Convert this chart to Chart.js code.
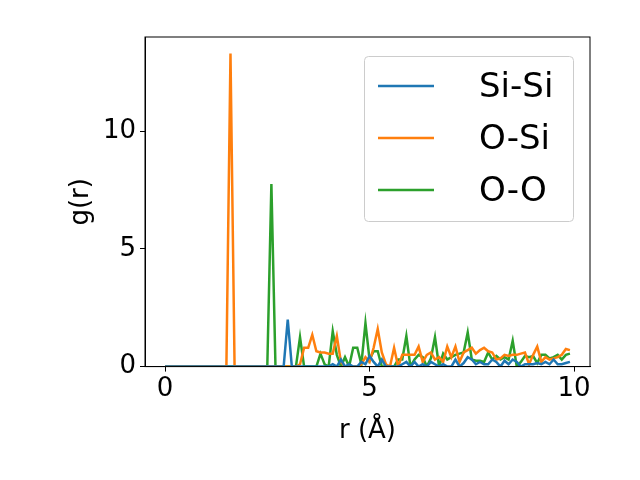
<!DOCTYPE html>
<html><head><script src="https://cdn.jsdelivr.net/npm/chart.js"></script>
<style>body{margin:0;background:#fff}#w{width:640px;height:480px}</style></head>
<body><div id="w"><canvas id="c" width="640" height="480"></canvas></div>
<script>
const labels = ["Si-Si","O-Si","O-O"];
const colors = ["#1f77b4","#ff7f0e","#2ca02c"];
const xTicks = [0,5,10];
const yTicks = [0,5,10];
const siSi = [0,0,0,0,0,0,0,0,0,0, 0,0,0,0,0,0,0,0,0,0, 0,0,0,0,0,0,0,0,0,0, 2.0,0,0,0,0,0,0,0,0,0,
0,0.1,0,0.3,0,0.1,0,0,0.2,0.1, 0.45,0.2,0,0.3,0,0,0,0,0.1,0.2, 0,0.2,0,0.1,0,0.2,0.1,0,0.1,0,
0,0.3,0,0.15,0.4,0.3,0.1,0.2,0.1,0.1, 0.3,0.2,0,0.25,0.1,0.3,0.2,0,0.1,0.1, 0.1,0.15,0.1,0.2,0.1,0.3,0.1,0.1,0.15,0.2];
const oSi = [0,0,0,0,0,0,0,0,0,0, 0,0,0,0,0,0,13.3,0,0,0, 0,0,0,0,0,0,0,0,0,0, 0,0,0,0.1,0.8,0.8,1.35,0.65,0.6,0.6,
0.55,0.55,1.3,0.2,0,0,0,0,0.1,0.4, 0.2,0.8,1.6,0.6,0.1,0,0.8,0,0.5,0.5, 0.5,0.5,0.85,0.2,0.5,0.6,0.3,0.4,0.2,0.85,
0.4,0.85,0.2,0.6,0.7,0.8,0.55,0.7,0.8,0.65, 0.6,0.3,0.35,0.5,0.45,0.5,0.5,0.55,0.6,0.1, 0.5,0.85,0.2,0.4,0.3,0.35,0.4,0.5,0.75,0.7];
const oO = [0,0,0,0,0,0,0,0,0,0, 0,0,0,0,0,0,0,0,0,0, 0,0,0,0,0,0,7.75,0,0,0, 0,0,0,1.25,0,0,0,0,0.55,0.1,
0,1.5,0.5,0,0.4,0,0.8,0.8,0.1,1.85, 0.3,0.65,0.65,0,0,0,0,0.3,0.3,1.3, 0,0.3,0.5,0.4,0,0.35,1.25,0,0.55,0.3,
0.4,0.5,0.55,0.6,1.45,0.3,0.25,0.25,0.2,0.6, 0.3,0.45,0.3,0.4,0.3,1.1,0,0.2,0.45,0.4, 0.45,0.15,0.5,0.5,0.35,0.4,0.5,0.3,0.5,0.55];
const series=[siSi,oSi,oO];
const mk=a=>a.map((v,i)=>({x:i/10,y:v}));
const inLegend={id:'inLegend',afterDraw(ch){const c=ch.ctx;
 const x0=364,y0=56,w=209,h=165;c.save();
 c.fillStyle='rgba(255,255,255,0.8)';c.strokeStyle='#cccccc';c.lineWidth=1;
 c.beginPath();c.roundRect(x0+0.5,y0+0.5,w,h,4);c.fill();c.stroke();
 c.font='34px "DejaVu Sans"';c.textBaseline='middle';
 labels.forEach((l,i)=>{const y=y0+30+i*52;c.strokeStyle=colors[i];c.lineWidth=2.5;
  c.beginPath();c.moveTo(378,y);c.lineTo(434,y);c.stroke();c.fillStyle='#000';c.fillText(l,479,y+2);});
 c.restore();}};
const tf={size:26,family:'DejaVu Sans'};
new Chart(document.getElementById('c'),{type:'line',
 data:{datasets:series.map((s,i)=>({label:labels[i],data:mk(s),borderColor:colors[i],borderWidth:2.5,pointRadius:0,tension:0}))},
 options:{responsive:false,animation:false,
  layout:{padding:{left:62,right:50,top:37,bottom:29}},
  plugins:{legend:{display:false},tooltip:{enabled:false}},
  scales:{
   x:{type:'linear',min:-0.49,max:10.39,afterBuildTicks:ax=>{ax.ticks=xTicks.map(v=>({value:v}))},
      grid:{drawOnChartArea:false,drawTicks:true,tickLength:5,color:'#000'},border:{color:'#000',width:1},
      ticks:{color:'#000',font:tf,padding:2},
      title:{display:true,text:'r (Å)',color:'#000',font:tf,padding:{top:9}}},
   y:{min:0,max:14,afterBuildTicks:ax=>{ax.ticks=yTicks.map(v=>({value:v}))},
      grid:{drawOnChartArea:false,drawTicks:true,tickLength:5,color:'#000'},border:{color:'#000',width:1},
      ticks:{color:'#000',font:tf,padding:4},
      title:{display:true,text:'g(r)',color:'#000',font:tf,padding:{bottom:4}},
      afterFit:ax=>{ax.width=83}}
  }},
 plugins:[inLegend,{id:'frame',afterDraw(ch){const c=ch.ctx,a=ch.chartArea;c.save();c.strokeStyle='#000';c.lineWidth=1;c.strokeRect(a.left,a.top,a.right-a.left,a.bottom-a.top);c.restore();}}]
});
</script></body></html>
